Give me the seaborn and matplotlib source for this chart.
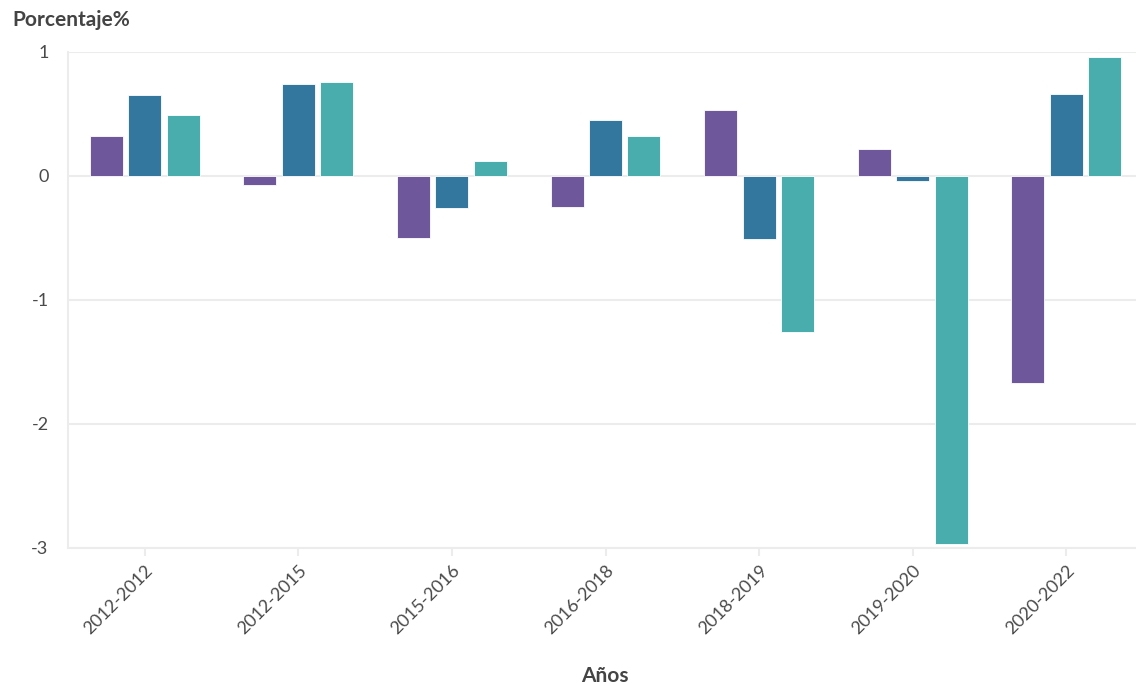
import matplotlib
matplotlib.use("Agg")
import matplotlib.pyplot as plt
import seaborn as sns
import pandas as pd

categorias = ["2012-2012", "2012-2015", "2015-2016", "2016-2018", "2018-2019", "2019-2020", "2020-2022"]
serie_1 = [0.32, -0.07, -0.50, -0.25, 0.53, 0.22, -1.67]
serie_2 = [0.65, 0.74, -0.26, 0.45, -0.51, -0.04, 0.66]
serie_3 = [0.49, 0.76, 0.12, 0.32, -1.26, -2.97, 0.96]
series = ["Serie 1", "Serie 2", "Serie 3"]
colores = ["#6f579b", "#33779f", "#4aadad"]
y_ticks = [-3, -2, -1, 0, 1]

rows = []
for nombre, vals in zip(series, [serie_1, serie_2, serie_3]):
    for c, v in zip(categorias, vals):
        rows.append({"Años": c, "Serie": nombre, "Valor": v})
df = pd.DataFrame(rows)

sns.set_theme(style="white")
plt.rcParams['font.family'] = ['Lato', 'DejaVu Sans']

W, H = 1136, 686
fig = plt.figure(figsize=(W / 100, H / 100), dpi=100)
left_px, right_px, top_px, bottom_px = 68, 1136, 52, 548
ax = fig.add_axes([left_px / W, 1 - bottom_px / H, (right_px - left_px) / W, (bottom_px - top_px) / H])

sns.barplot(data=df, x="Años", y="Valor", hue="Serie", hue_order=series, order=categorias,
            palette=colores, width=0.75, gap=0.14, legend=False, ax=ax,
            edgecolor="white", linewidth=0.6, errorbar=None, saturation=1)

ax.set_ylim(-3, 1)
ax.set_xlim(-0.5, 6.5 - (1143 - 1136) / 153.5)
ax.set_yticks(y_ticks)
ax.set_yticklabels([str(t) for t in y_ticks])
ax.yaxis.grid(True, color="#ececec", linewidth=1.5)
ax.set_axisbelow(True)
for s in ["top", "right"]:
    ax.spines[s].set_visible(False)
ax.spines["left"].set_color("#ececec")
ax.spines["left"].set_linewidth(1.5)
ax.spines["bottom"].set_color("#ececec")
ax.spines["bottom"].set_linewidth(1.5)
ax.tick_params(axis="y", length=10, width=1.5, color="#ececec", labelsize=13, labelcolor="#4a4a4a", pad=4)
ax.tick_params(axis="x", length=6, width=1.5, color="#ececec", labelsize=13, labelcolor="#4a4a4a", pad=4, bottom=True)
plt.setp(ax.get_xticklabels(), rotation=45, ha="right", rotation_mode="anchor")
ax.set_xlabel("")
ax.set_ylabel("")

fig.text(12 / W, 1 - 20 / H, "Porcentaje%", fontsize=15, fontweight="bold", color="#444444", ha="left", va="center")
fig.text(605 / W, 1 - 676 / H, "Años", fontsize=15, fontweight="bold", color="#444444", ha="center", va="center")

fig.savefig("out.png", dpi=100)
